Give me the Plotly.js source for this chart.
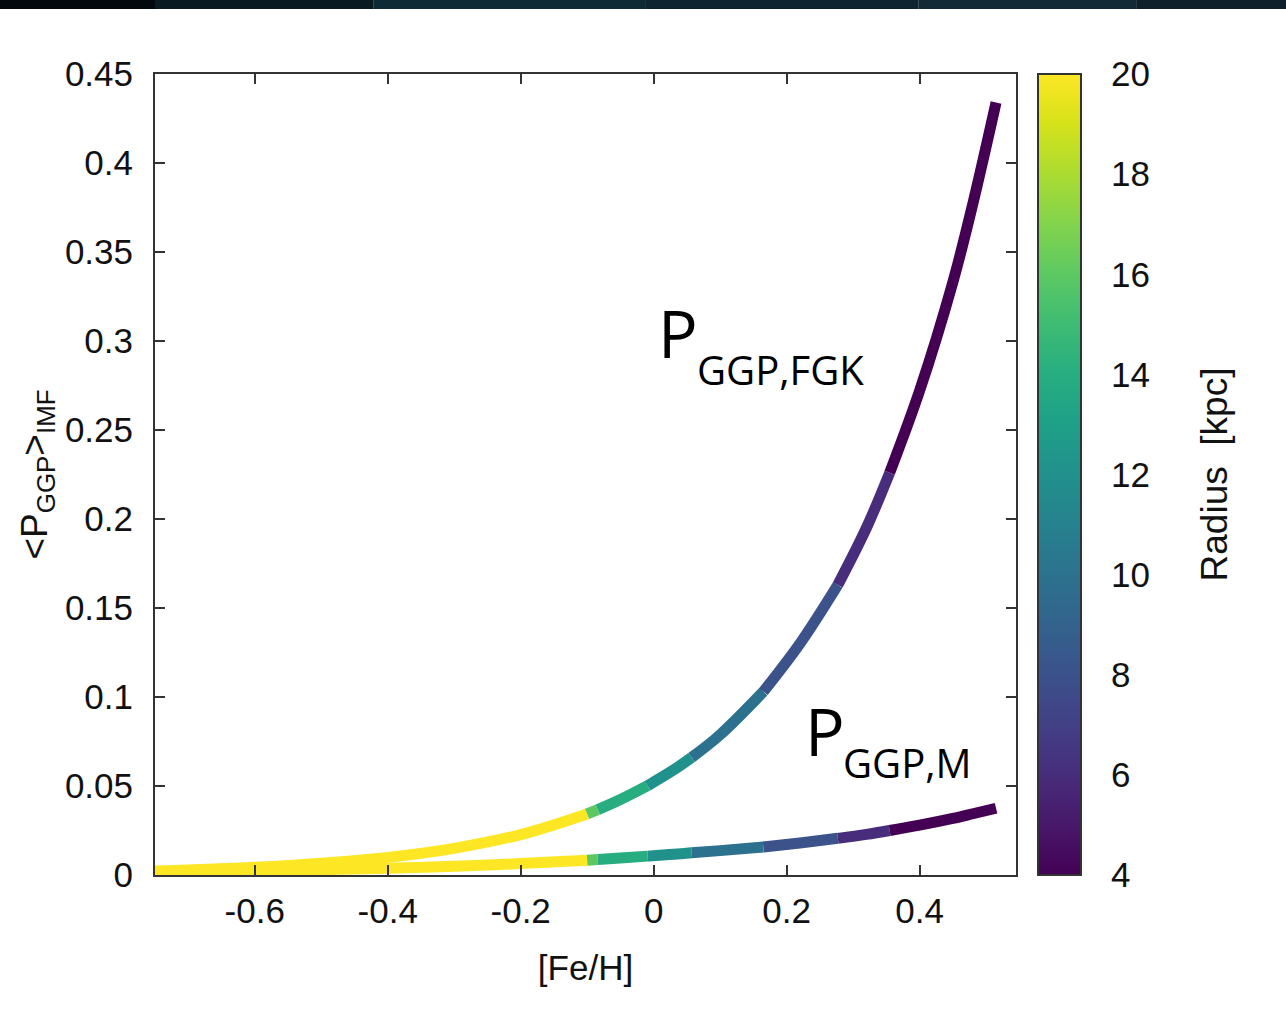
<!DOCTYPE html>
<html>
<head>
<meta charset="utf-8">
<script src="https://cdn.plot.ly/plotly-3.0.1.min.js"></script>
<style>html,body{margin:0;padding:0;background:#fff;}#chart{width:1286px;height:1013px;}</style>
</head>
<body>
<div id="chart"></div>
<script>
// ---- data ----
const feh = [-0.75, -0.70, -0.60, -0.50, -0.40, -0.30, -0.20, -0.10, -0.084, -0.05, -0.009, 0.03, 0.057, 0.10, 0.165, 0.22, 0.277, 0.32, 0.355, 0.40, 0.45, 0.48, 0.515];
const pFGK = [0.0023, 0.0028, 0.0043, 0.0066, 0.0099, 0.0150, 0.0227, 0.0343, 0.0367, 0.0424, 0.0502, 0.0590, 0.0660, 0.0788, 0.103, 0.130, 0.163, 0.195, 0.226, 0.272, 0.333, 0.377, 0.434];
const pM = [0.0016, 0.0018, 0.0023, 0.0030, 0.0038, 0.0049, 0.0064, 0.0083, 0.0087, 0.0095, 0.0106, 0.0116, 0.0125, 0.0137, 0.0157, 0.0180, 0.0206, 0.0228, 0.0250, 0.0280, 0.0318, 0.0344, 0.0375];
// radius [kpc] of the segment starting at each point
const radius = [20, 20, 20, 20, 20, 20, 20, 16, 14, 14, 12, 12, 10, 10, 8, 8, 6, 6, 4, 4, 4, 4, 4];
const xTickVals = [-0.6, -0.4, -0.2, 0, 0.2, 0.4];
const xTickText = ['-0.6', '-0.4', '-0.2', '0', '0.2', '0.4'];
const yTickVals = [0, 0.05, 0.1, 0.15, 0.2, 0.25, 0.3, 0.35, 0.4, 0.45];
const yTickText = ['0', '0.05', '0.1', '0.15', '0.2', '0.25', '0.3', '0.35', '0.4', '0.45'];
const cbTicks = [4, 6, 8, 10, 12, 14, 16, 18, 20];
const cbRange = [4, 20];

// ---- styling helpers ----
const viridis = [[0,'#440154'],[0.0627,'#48186a'],[0.1255,'#472d7b'],[0.1882,'#424086'],[0.2510,'#3b528b'],[0.3137,'#33638d'],[0.3765,'#2c728e'],[0.4392,'#26828e'],[0.5020,'#21918c'],[0.5647,'#1fa088'],[0.6275,'#28ae80'],[0.6902,'#3fbc73'],[0.7529,'#5ec962'],[0.8157,'#84d44b'],[0.8784,'#addc30'],[0.9412,'#d8e219'],[1,'#fde725']];
function hex2rgb(h){return [parseInt(h.substr(1,2),16),parseInt(h.substr(3,2),16),parseInt(h.substr(5,2),16)];}
function colorFor(r){
  let t=(r-cbRange[0])/(cbRange[1]-cbRange[0]); t=Math.max(0,Math.min(1,t));
  for(let i=0;i<viridis.length-1;i++){
    const a=viridis[i], b=viridis[i+1];
    if(t<=b[0]){
      const f=(t-a[0])/(b[0]-a[0]); const ca=hex2rgb(a[1]), cb=hex2rgb(b[1]);
      return 'rgb('+ca.map((v,k)=>Math.round(v+(cb[k]-v)*f)).join(',')+')';
    }
  }
  return viridis[viridis.length-1][1];
}
function segTraces(xs, ys){
  const out=[]; let start=0;
  for(let i=1;i<=xs.length-1;i++){
    if(i===xs.length-1 || radius[i]!==radius[start]){
      out.push({type:'scatter',mode:'lines',x:xs.slice(start,i+1),y:ys.slice(start,i+1),
        line:{color:colorFor(radius[start]),width:11,shape:'spline',smoothing:1},
        hoverinfo:'skip',showlegend:false});
      start=i;
    }
  }
  return out;
}

const traces = [].concat(segTraces(feh,pM), segTraces(feh,pFGK));
// colour bar carrier
traces.push({type:'scatter',mode:'markers',x:[null],y:[null],xaxis:'x',yaxis:'y3',
  marker:{color:[cbRange[0]],cmin:cbRange[0],cmax:cbRange[1],colorscale:'Viridis',showscale:true,opacity:0,
    colorbar:{thickness:43,thicknessmode:'pixels',len:1,lenmode:'fraction',x:0.80935,xanchor:'left',xpad:0,
      y:0.5,yanchor:'middle',ypad:0,outlinewidth:2,outlinecolor:'#333',ticks:'',showticklabels:false,borderwidth:0}},
  hoverinfo:'skip',showlegend:false});
traces.push({type:'scatter',mode:'markers',x:[null],y:[null],xaxis:'x',yaxis:'y2',marker:{opacity:0},hoverinfo:'skip',showlegend:false});

const txtFont = {family:'Liberation Sans, Arial, sans-serif', size:35, color:'#111'};
const titleFont = {family:'Liberation Sans, Arial, sans-serif', size:37, color:'#111'};
const annFontBig = {family:'Open Sans, Noto Sans, sans-serif',size:66,color:'#000'};
const annFontSub = {family:'Open Sans, Noto Sans, sans-serif',size:40,color:'#000'};
const plotW = 1286-155-40;
const layout = {
  width:1286, height:1013,
  margin:{l:155,r:40,t:74,b:138},
  paper_bgcolor:'#fff', plot_bgcolor:'#fff',
  showlegend:false,
  xaxis:{domain:[0,861/plotW],range:[-0.75,0.545],tickvals:xTickVals,ticktext:xTickText,
    ticks:'inside',ticklen:10,tickwidth:2,tickcolor:'#333',showline:true,linewidth:2,linecolor:'#333',mirror:'ticks',
    showgrid:false,zeroline:false,tickfont:txtFont,ticklabelstandoff:4,
    title:{text:'[Fe/H]',font:txtFont,standoff:26}},
  yaxis:{range:[0,0.45],tickvals:yTickVals,ticktext:yTickText,
    ticks:'inside',ticklen:10,tickwidth:2,tickcolor:'#333',showline:true,linewidth:2,linecolor:'#333',mirror:'ticks',
    showgrid:false,zeroline:false,tickfont:txtFont,ticklabelstandoff:13,
    title:{text:'&lt;P<sub>GGP</sub>&gt;<sub>IMF</sub>',font:titleFont,standoff:6}},
  yaxis2:{overlaying:'y',anchor:'free',position:0.80935,side:'left',range:cbRange,tickvals:cbTicks,
    ticks:'inside',ticklen:8,tickwidth:2,tickcolor:'#333',showticklabels:false,showline:false,showgrid:false,zeroline:false},
  yaxis3:{overlaying:'y',anchor:'free',position:0.84784,side:'right',range:cbRange,tickvals:cbTicks,
    ticks:'inside',ticklen:8,tickwidth:2,tickcolor:'#333',showticklabels:true,showline:false,showgrid:false,zeroline:false,
    tickfont:txtFont,ticklabelstandoff:30,
    title:{text:'Radius&nbsp;&nbsp;[kpc]',font:titleFont,standoff:52}},
  annotations:[
    {xref:'x',yref:'y',x:0.003,y:0.2785,xanchor:'left',yanchor:'bottom',showarrow:false,text:'P',font:annFontBig},
    {xref:'x',yref:'y',x:0.0615,y:0.2675,xanchor:'left',yanchor:'bottom',showarrow:false,text:'GGP,FGK',font:annFontSub},
    {xref:'x',yref:'y',x:0.224,y:0.0553,xanchor:'left',yanchor:'bottom',showarrow:false,text:'P',font:annFontBig},
    {xref:'x',yref:'y',x:0.2825,y:0.0465,xanchor:'left',yanchor:'bottom',showarrow:false,text:'GGP,M',font:annFontSub}
  ],
  shapes:[
    {type:'rect',xref:'paper',yref:'paper',x0:-0.15,x1:0.0,y0:1.0811,y1:1.1,fillcolor:'#02080b',line:{width:0},layer:'above'},
    {type:'rect',xref:'paper',yref:'paper',x0:0.0,x1:0.2,y0:1.0811,y1:1.1,fillcolor:'#0a1a21',line:{width:0},layer:'above'},
    {type:'rect',xref:'paper',yref:'paper',x0:0.2,x1:0.45,y0:1.0811,y1:1.1,fillcolor:'#0e2a34',line:{width:0},layer:'above'},
    {type:'rect',xref:'paper',yref:'paper',x0:0.45,x1:0.7,y0:1.0811,y1:1.1,fillcolor:'#0f2631',line:{width:0},layer:'above'},
    {type:'rect',xref:'paper',yref:'paper',x0:0.7,x1:0.9,y0:1.0811,y1:1.1,fillcolor:'#112a36',line:{width:0},layer:'above'},
    {type:'rect',xref:'paper',yref:'paper',x0:0.9,x1:1.05,y0:1.0811,y1:1.1,fillcolor:'#10202b',line:{width:0},layer:'above'}
  ]
};
Plotly.newPlot('chart', traces, layout, {staticPlot:true, displayModeBar:false});
</script>
</body>
</html>
